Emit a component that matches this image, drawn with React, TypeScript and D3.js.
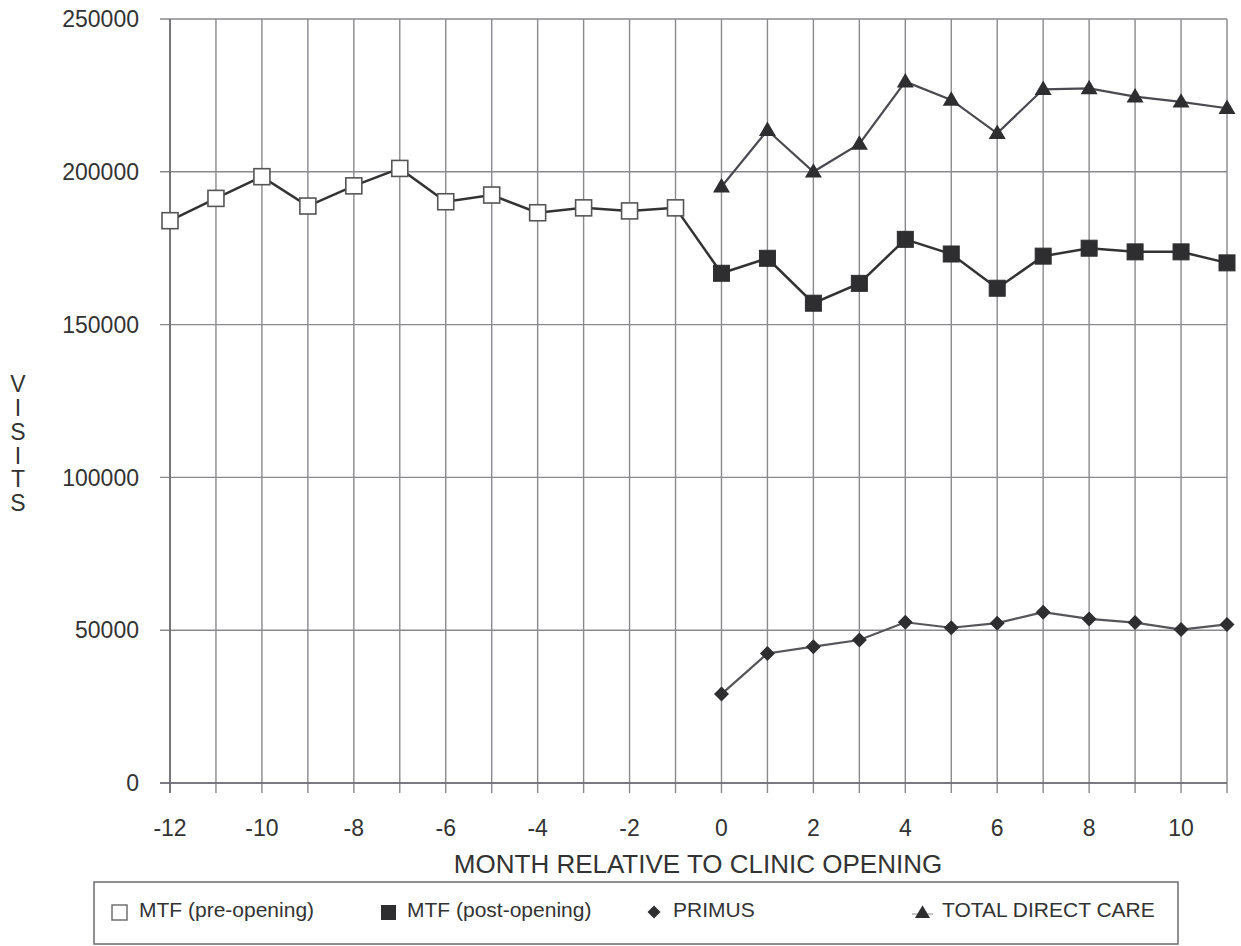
import React from "react";
import * as d3 from "d3";

const preMonths = [-12, -11, -10, -9, -8, -7, -6, -5, -4, -3, -2, -1];
const preValues = [184000, 191300, 198400, 188800, 195400, 201100, 190200, 192400, 186600, 188200, 187200, 188200];

const postMonths = [0, 1, 2, 3, 4, 5, 6, 7, 8, 9, 10, 11];
const postValues = [166800, 171700, 157000, 163500, 177900, 173100, 161900, 172400, 175000, 173800, 173800, 170200];
const primusValues = [29100, 42400, 44600, 46800, 52600, 50800, 52300, 55900, 53700, 52500, 50200, 51900];
const totalValues = [195100, 213600, 200000, 209100, 229500, 223500, 212600, 227000, 227300, 224600, 222900, 220800];

const xTickLabels = [-12, -10, -8, -6, -4, -2, 0, 2, 4, 6, 8, 10];
const yTickValues = [0, 50000, 100000, 150000, 200000, 250000];
const yTitleLetters = ["V", "I", "S", "I", "T", "S"];
const xTitle = "MONTH RELATIVE TO CLINIC OPENING";
const legendLabels = ["MTF (pre-opening)", "MTF (post-opening)", "PRIMUS", "TOTAL DIRECT CARE"];

const FONT = "'Liberation Sans', Arial, Helvetica, sans-serif";
const TEXT = "#333";
const GRID = "#8a8a8e";

export default function App() {
  const x = d3.scaleLinear().domain([-12, 11]).range([170, 1227]);
  const y = d3.scaleLinear().domain([0, 250000]).range([783, 19]);
  const allMonths = d3.range(-12, 12);

  const line = d3
    .line<[number, number]>()
    .x((d) => x(d[0]))
    .y((d) => y(d[1]));

  const prePts = preMonths.map((m, i) => [m, preValues[i]] as [number, number]);
  const postPts = postMonths.map((m, i) => [m, postValues[i]] as [number, number]);
  const primPts = postMonths.map((m, i) => [m, primusValues[i]] as [number, number]);
  const totPts = postMonths.map((m, i) => [m, totalValues[i]] as [number, number]);
  const connector: [number, number][] = [prePts[prePts.length - 1], postPts[0]];

  const sq = 16;
  const tri = (cx: number, cy: number, s: number) => {
    const h = s * 0.85;
    return `M${cx},${cy - h * 0.6} L${cx + s / 2},${cy + h * 0.4} L${cx - s / 2},${cy + h * 0.4} Z`;
  };
  const dia = (cx: number, cy: number, r: number) =>
    `M${cx},${cy - r} L${cx + r},${cy} L${cx},${cy + r} L${cx - r},${cy} Z`;

  const legY = 912;

  return (
    <svg
      width={1241}
      height={946}
      style={{ position: "absolute", left: 0, top: 0, background: "#fff" }}
      fontFamily={FONT}
    >
      <rect x={0} y={0} width={1241} height={946} fill="#fff" />
      {/* vertical gridlines with ticks below axis */}
      {allMonths.map((m) => (
        <line key={"vg" + m} x1={x(m)} x2={x(m)} y1={y(250000)} y2={y(0) + 10} stroke={GRID} strokeWidth={1.4} />
      ))}
      {/* horizontal gridlines with ticks left */}
      {yTickValues.map((v) => (
        <line key={"hg" + v} x1={x(-12) - 10} x2={x(11)} y1={y(v)} y2={y(v)} stroke={GRID} strokeWidth={1.4} />
      ))}
      {/* axis lines */}
      <line x1={x(-12)} x2={x(-12)} y1={y(250000)} y2={y(0) + 10} stroke="#6a6a70" strokeWidth={1.6} />
      <line x1={x(-12) - 10} x2={x(11)} y1={y(0)} y2={y(0)} stroke="#6a6a70" strokeWidth={1.6} />

      {/* y tick labels */}
      {yTickValues.map((v) => (
        <text key={"yl" + v} x={139} y={y(v)} dy="0.36em" textAnchor="end" fontSize={23} fill={TEXT}>
          {v}
        </text>
      ))}
      {/* x tick labels */}
      {xTickLabels.map((m) => (
        <text key={"xl" + m} x={x(m)} y={836} textAnchor="middle" fontSize={23} fill={TEXT}>
          {m}
        </text>
      ))}
      {/* axis titles */}
      <text x={698} y={873} textAnchor="middle" fontSize={26} fill={TEXT}>
        {xTitle}
      </text>
      {yTitleLetters.map((c, i) => (
        <text key={"yt" + i} x={18} y={384 + i * 23.8} dy="0.36em" textAnchor="middle" fontSize={23} fill={TEXT}>
          {c}
        </text>
      ))}

      {/* series lines */}
      <path d={line(totPts) || ""} fill="none" stroke="#4a4a50" strokeWidth={2.2} />
      <path d={line(primPts) || ""} fill="none" stroke="#55555a" strokeWidth={2.2} />
      <path d={line(connector) || ""} fill="none" stroke="#333" strokeWidth={2.5} />
      <path d={line(postPts) || ""} fill="none" stroke="#333" strokeWidth={2.5} />
      <path d={line(prePts) || ""} fill="none" stroke="#333" strokeWidth={2.5} />

      {/* markers */}
      {prePts.map((p, i) => (
        <rect key={"pm" + i} x={x(p[0]) - sq / 2} y={y(p[1]) - sq / 2} width={sq} height={sq} fill="#fff" stroke="#555" strokeWidth={1.6} />
      ))}
      {postPts.map((p, i) => (
        <rect key={"qm" + i} x={x(p[0]) - sq / 2} y={y(p[1]) - sq / 2} width={sq} height={sq} fill="#2e2e30" stroke="#2e2e30" strokeWidth={1} />
      ))}
      {primPts.map((p, i) => (
        <path key={"dm" + i} d={dia(x(p[0]), y(p[1]), 7.5)} fill="#2e2e30" />
      ))}
      {totPts.map((p, i) => (
        <path key={"tm" + i} d={tri(x(p[0]), y(p[1]), 17)} fill="#2e2e30" />
      ))}

      {/* legend */}
      <rect x={94} y={882} width={1084} height={62} fill="none" stroke="#6a6a70" strokeWidth={1.5} />
      <rect x={112} y={legY - 7} width={15} height={15} fill="#fff" stroke="#666" strokeWidth={1.4} />
      <text x={139} y={917} fontSize={21} fill={TEXT}>{legendLabels[0]}</text>
      <rect x={381} y={legY - 7} width={15} height={15} fill="#2e2e30" />
      <text x={407} y={917} fontSize={21} fill={TEXT}>{legendLabels[1]}</text>
      <path d={dia(654, legY, 6.5)} fill="#2e2e30" />
      <text x={673} y={917} fontSize={21} fill={TEXT}>{legendLabels[2]}</text>
      <line x1={912} x2={933} y1={legY + 2} y2={legY + 2} stroke="#888" strokeWidth={1} />
      <path d={tri(922.5, legY + 1, 15)} fill="#2e2e30" />
      <text x={942} y={917} fontSize={21} fill={TEXT}>{legendLabels[3]}</text>
    </svg>
  );
}
